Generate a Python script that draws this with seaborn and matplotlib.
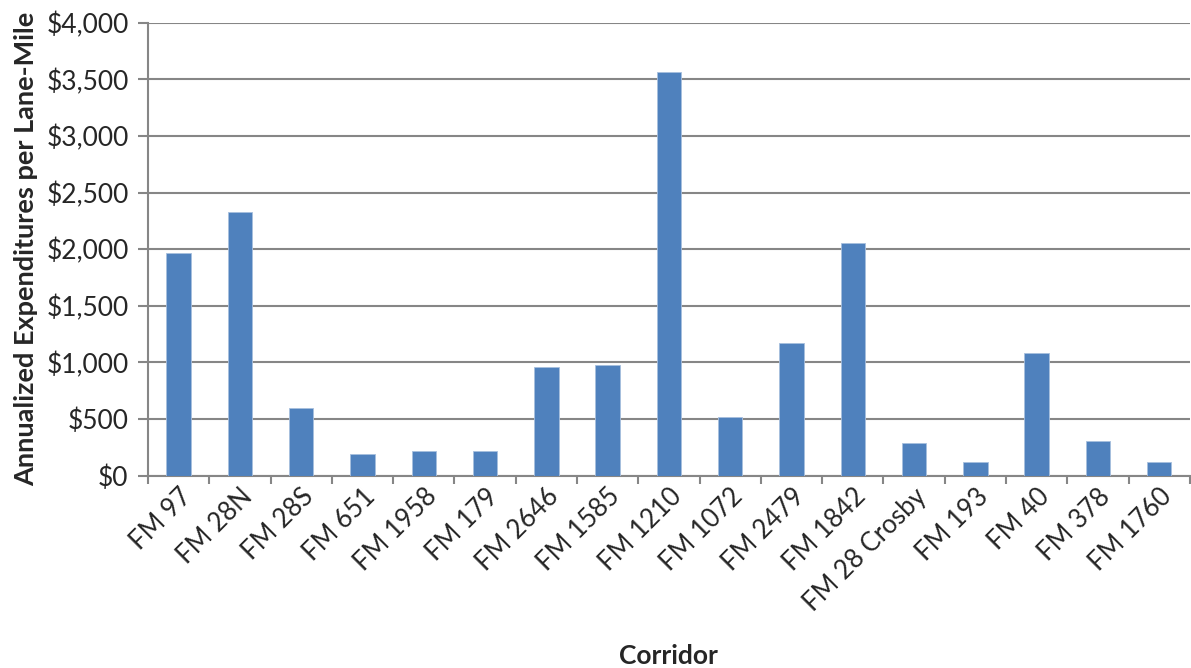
import pandas as pd
import matplotlib.pyplot as plt
import numpy as np
import seaborn as sns
from matplotlib.ticker import FuncFormatter, FixedLocator

corridors = ['FM 97', 'FM 28N', 'FM 28S', 'FM 651', 'FM 1958', 'FM 179', 'FM 2646',
             'FM 1585', 'FM 1210', 'FM 1072', 'FM 2479', 'FM 1842', 'FM 28 Crosby',
             'FM 193', 'FM 40', 'FM 378', 'FM 1760']
expenditures = [1962, 2324, 595, 194, 221, 221, 958, 977, 3562, 516, 1169, 2052,
                286, 118, 1081, 304, 121]
y_ticks = list(range(0, 4001, 500))

df = pd.DataFrame({'Corridor': corridors, 'Expenditure': expenditures})

sns.set_theme(style='white')
plt.rcParams['font.family'] = ['Lato', 'DejaVu Sans']

fig, ax = plt.subplots(figsize=(11.91, 6.68), dpi=100)
fig.subplots_adjust(left=0.1243, right=0.999, bottom=0.288, top=0.966)

sns.barplot(data=df, x='Corridor', y='Expenditure', color='#4F81BD', width=0.4,
            saturation=1, edgecolor='#A7BFDE', linewidth=0.6, ax=ax, zorder=3)

ax.set_ylim(0, 4000)
ax.set_xlim(-0.5, len(corridors) - 0.5)
ax.set_yticks(y_ticks)
ax.yaxis.set_major_formatter(FuncFormatter(lambda v, p: '${:,.0f}'.format(v)))
ax.grid(axis='y', color='#868686', linewidth=1.5, zorder=0)

# category ticks sit between bars
ax.xaxis.set_minor_locator(FixedLocator(np.arange(-0.5, len(corridors), 1)))
ax.tick_params(axis='x', which='major', length=0, pad=6)
ax.tick_params(axis='x', which='minor', length=6, width=1.5, color='#868686', bottom=True)
ax.tick_params(axis='y', length=7, width=1.5, color='#868686', left=True, pad=7)
plt.setp(ax.get_xticklabels(), rotation=45, ha='right', rotation_mode='anchor', fontsize=18.5)
plt.setp(ax.get_yticklabels(), fontsize=19)

for side in ['top', 'right']:
    ax.spines[side].set_visible(False)
for side in ['left', 'bottom']:
    ax.spines[side].set_color('#868686')
    ax.spines[side].set_linewidth(1.5)

ax.set_xlabel('Corridor', fontsize=19, fontweight='bold')
ax.set_ylabel('Annualized Expenditures per Lane-Mile', fontsize=19.5, fontweight='bold', labelpad=6)
ax.xaxis.set_label_coords(0.5, -0.372)

fig.savefig('out.png', dpi=100)
print('done')
